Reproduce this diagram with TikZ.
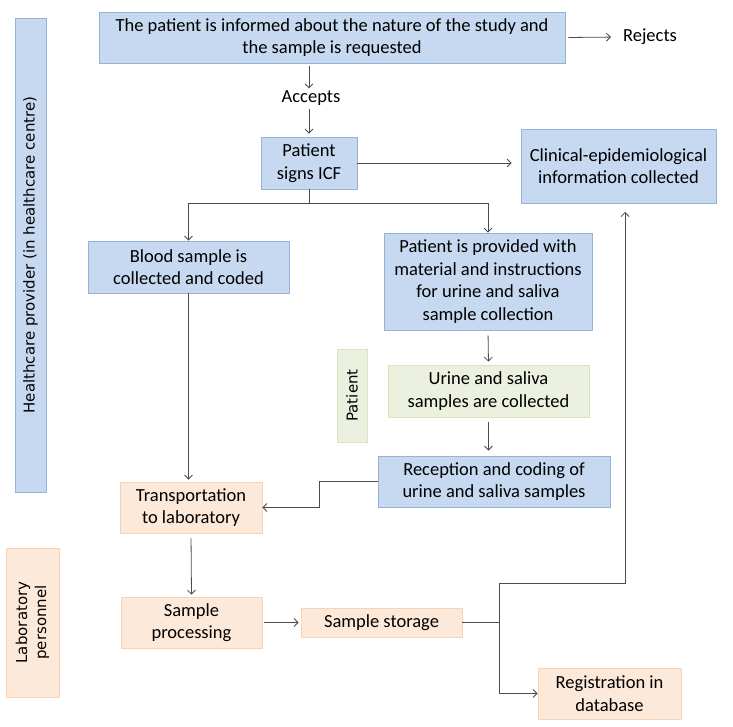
\documentclass[tikz,border=0pt]{standalone}
\usepackage{fontspec}
\setmainfont{Carlito}
\newfontfamily\lanefont{DejaVu Sans}
\usetikzlibrary{arrows.meta}
\definecolor{provfill}{HTML}{C6D9F1}
\definecolor{provline}{HTML}{95B3D7}
\definecolor{labfill}{HTML}{FDE9D9}
\definecolor{labline}{HTML}{FAD3B5}
\definecolor{patfill}{HTML}{EBF1DE}
\definecolor{patline}{HTML}{D7E4BD}
\begin{document}
\begin{tikzpicture}[x=1pt, y=-1pt,
  box/.style={draw, rectangle, inner sep=0pt, align=center, line width=0.8pt,
    font=\fontsize{18.5}{22.5}\selectfont},
  provbox/.style={box, fill=provfill, draw=provline},
  labbox/.style={box, fill=labfill, draw=labline},
  patbox/.style={box, fill=patfill, draw=patline},
  lane/.style={rotate=90, font=\lanefont\fontsize{15}{19}\selectfont},
  arr/.style={-{Straight Barb[length=4pt,width=8pt]}, line width=0.8pt, draw=black!70},
  link/.style={line width=0.8pt, draw=black!70}]
\useasboundingbox[fill=white] (0,0) rectangle (733,727);

%lanes
\node[provbox, lane, minimum width=474, minimum height=31] (health) at (30.5,255) {Healthcare provider (in healthcare centre)};
\node[labbox, lane, minimum width=149, minimum height=53] (lab) at (32.5,622.5) {Laboratory\\personnel};
\node[patbox, lane, minimum width=93, minimum height=30] (patient) at (352,395.5) {Patient};

%boxes
\node[provbox, minimum width=466, minimum height=51] (inform) at (332,37.5) {The patient is informed about the nature of the study and\\the sample is requested};
\node[font=\fontsize{18.5}{22.5}\selectfont, inner sep=0pt] (rejects) at (650,37) {Rejects};
\node[font=\fontsize{18.5}{22.5}\selectfont, inner sep=2pt] (accepts) at (311,98) {Accepts};
\node[provbox, minimum width=96, minimum height=52] (icf) at (309,163) {Patient\\signs ICF};
\node[provbox, minimum width=195, minimum height=74] (clinical) at (618.5,166) {Clinical-epidemiological\\information collected};
\node[provbox, minimum width=201, minimum height=52] (blood) at (188.5,267) {Blood sample is\\collected and coded};
\node[provbox, minimum width=208, minimum height=97] (provided) at (488,281.5) {Patient is provided with\\material and instructions\\for urine and saliva\\sample collection};
\node[patbox, minimum width=201, minimum height=52] (urine) at (488.5,391) {Urine and saliva\\samples are collected};
\node[provbox, minimum width=232, minimum height=51] (reception) at (494,481.5) {Reception and coding of\\urine and saliva samples};
\node[labbox, minimum width=142, minimum height=51] (transport) at (191,507.5) {Transportation\\to laboratory};
\node[labbox, minimum width=141, minimum height=51] (processing) at (191.5,622.5) {Sample\\processing};
\node[labbox, minimum width=161, minimum height=29] (storage) at (381.5,622.5) {Sample storage};
\node[labbox, minimum width=143, minimum height=51] (registration) at (609.5,693.5) {Registration in\\database};

%junctions
\coordinate (fork) at (309,203);
\coordinate (bend) at (319,481.5);
\coordinate (hub) at (499,622.5);
\coordinate (split) at (499,583);
\coordinate (riser) at (625,212);

%arrows
\draw[arr, shorten <=3pt, shorten >=12pt] (inform.east) -- (rejects.west);
\draw[arr, shorten <=3pt] (inform.south -| icf.north) -- (accepts.north -| icf.north);
\draw[arr, shorten <=1pt, shorten >=3pt] (accepts.south -| icf.north) -- (icf.north);
\draw[arr, shorten >=9pt] (icf.east) -- (clinical.west |- icf.east);
\draw[link] (icf.south) -- (fork);
\draw[arr] (fork) -| (blood.north);
\draw[arr] (fork) -| (provided.north);
\draw[arr, shorten >=2pt] (blood.south) -- (transport.north -| blood.south);
\draw[arr, shorten <=5pt, shorten >=3pt] (provided.south) -- (urine.north);
\draw[arr, shorten <=5pt, shorten >=5pt] (urine.south) -- (urine.south |- reception.north);
\draw[arr] (reception.west) -- (bend) |- (transport.east);
\draw[arr, shorten <=5pt, shorten >=2pt] (transport.south) -- (processing.north);
\draw[arr, shorten <=2pt, shorten >=2pt] (processing.east) -- (storage.west);
\draw[link] (storage.east) -- (hub);
\draw[arr] (split) |- (registration.west);
\draw[arr] (split) -| (riser);

\end{tikzpicture}
\end{document}
